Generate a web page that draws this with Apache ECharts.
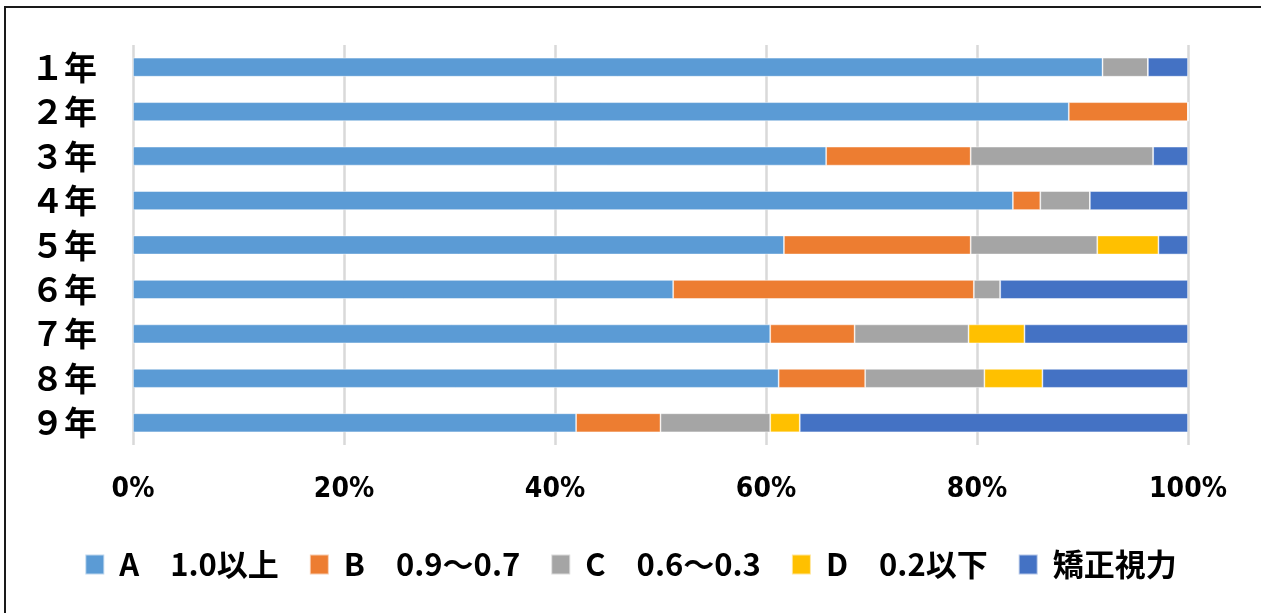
<!DOCTYPE html>
<html>
<head>
<meta charset="utf-8">
<script src="https://cdn.jsdelivr.net/npm/echarts@6/dist/echarts.min.js"></script>
<style>
html,body{margin:0;padding:0;background:#fff;}
#frame{position:absolute;left:4px;top:6px;width:1257px;height:607px;border-left:2px solid #1a1a1a;border-top:2px solid #1a1a1a;box-sizing:border-box;}
#chart{position:absolute;left:0;top:0;width:1261px;height:613px;}
</style>
</head>
<body>
<div id="frame"></div>
<div id="chart"></div>
<script>
const categories = ['１年','２年','３年','４年','５年','６年','７年','８年','９年'];
const seriesNames = ['A　1.0以上','B　0.9～0.7','C　0.6～0.3','D　0.2以下','矯正視力'];
const valuesA = [91.9, 88.7, 65.7, 83.4, 61.7, 51.2, 60.4, 61.2, 42.0];
const valuesB = [0, 11.3, 13.7, 2.6, 17.7, 28.5, 8.0, 8.2, 8.0];
const valuesC = [4.3, 0, 17.3, 4.7, 12.0, 2.5, 10.8, 11.3, 10.4];
const valuesD = [0, 0, 0, 0, 5.8, 0, 5.3, 5.5, 2.8];
const valuesE = [3.8, 0, 3.3, 9.3, 2.8, 17.8, 15.5, 13.8, 36.8];
const xTicks = ['0%','20%','40%','60%','80%','100%'];
const colors = ['#5B9BD5','#ED7D31','#A5A5A5','#FFC000','#4472C4'];

const allValues = [valuesA, valuesB, valuesC, valuesD, valuesE];
const chart = echarts.init(document.getElementById('chart'));
const jp = '"Noto Sans CJK JP", "Noto Sans", sans-serif';
chart.setOption({
  animation: false,
  grid: {left: 133, right: 73, top: 45, bottom: 168},
  xAxis: {
    type: 'value', min: 0, max: 100, interval: 20,
    axisLine: {show: false}, axisTick: {show: false},
    splitLine: {show: true, lineStyle: {color: '#d9d9d9', width: 2.5}},
    axisLabel: {
      margin: 31, fontSize: 28, fontWeight: 'bold', color: '#000',
      fontFamily: '"DejaVu Sans Condensed", "DejaVu Sans", sans-serif',
      formatter: v => xTicks[Math.round(v / 20)]
    }
  },
  yAxis: {
    type: 'category', data: categories, inverse: true,
    axisLine: {show: false}, axisTick: {show: false},
    axisLabel: {margin: 36, fontSize: 33, fontWeight: 'bold', color: '#000', fontFamily: jp}
  },
  legend: {
    data: seriesNames, left: 'center', top: 544,
    itemWidth: 19, itemHeight: 20, itemGap: 30,
    icon: 'rect',
    textStyle: {fontSize: 31, fontWeight: 'bold', color: '#000', fontFamily: jp, padding: [0,0,0,10]}
  },
  series: seriesNames.map((n, i) => ({
    name: n, type: 'bar', stack: 'total', barWidth: 19,
    data: allValues[i],
    itemStyle: {color: colors[i], borderColor: 'rgba(255,255,255,0.6)', borderWidth: 0.8}
  }))
});
</script>
</body>
</html>
